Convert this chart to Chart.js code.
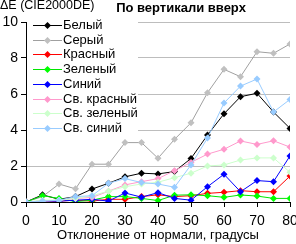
<!DOCTYPE html>
<html>
<head>
<meta charset="utf-8">
<script src="https://cdn.jsdelivr.net/npm/chart.js@4"></script>
<style>
  html, body { margin: 0; padding: 0; background: #fff; }
  #c { display: block; }
</style>
</head>
<body>
<canvas id="c" width="296" height="244"></canvas>
<script>
// Углы отклонения, градусы
const angles = [0, 5, 10, 15, 20, 25, 30, 35, 40, 45, 50, 55, 60, 65, 70, 75, 80];

// ΔE по каждому цвету
const belyj     = [0, 0.4, 0.15, 0.3, 0.72, 1.04, 1.4, 1.6, 1.56, 1.69, 2.42, 3.72, 4.9, 5.85, 6.04, 5.0, 4.09];
const seryj     = [0, 0.3, 1.0, 0.73, 2.1, 2.1, 3.3, 3.3, 2.43, 3.48, 4.4, 6.07, 7.37, 6.96, 8.35, 8.26, 8.78];
const krasnyj   = [0, 0.05, 0.05, 0.1, 0.05, 0.15, 0.15, 0.3, 0.4, 0.3, 0.35, 0.48, 0.54, 0.63, 0.57, 0.57, 1.44];
const zelenyj   = [0, 0.35, 0.2, 0.02, 0.1, 0.3, 0.3, 0.2, 0.08, 0.38, 0.4, 0.35, 0.26, 0.39, 0.33, 0.2, 0.2];
const sinij     = [0, 0.05, 0.05, 0.1, 0.15, 0.05, 0.5, 0.27, 0.52, 0.2, 0.1, 0.85, 1.54, 0.57, 1.19, 1.13, 2.56];
const svKrasnyj = [0, 0.05, 0.1, 0.2, 0.25, 0.6, 0.95, 1.13, 1.3, 1.74, 2.2, 2.66, 2.93, 3.39, 3.2, 3.4, 3.05];
const svZelenyj = [0, 0.1, 0.1, 0.2, 0.35, 0.6, 0.85, 1.0, 1.1, 1.35, 1.6, 2.0, 2.06, 2.33, 2.45, 2.45, 1.65];
const svSinij   = [0, 0.05, 0.1, 0.3, 0.35, 1.04, 1.3, 1.08, 1.0, 0.82, 2.06, 3.55, 5.5, 6.44, 6.83, 5.0, 5.7];

const seriesNames = ['Белый', 'Серый', 'Красный', 'Зеленый', 'Синий', 'Св. красный', 'Св. зеленый', 'Св. синий'];
const seriesData = [belyj, seryj, krasnyj, zelenyj, sinij, svKrasnyj, svZelenyj, svSinij];
const lineColors = ['#000000', '#a0a0a0', '#ff0000', '#00e600', '#0000ff', '#ff99cc', '#ccffcc', '#99ccff'];
const pointColors = ['#000000', '#c0c0c0', '#ff0000', '#00ff00', '#0000ff', '#ff99cc', '#ccffcc', '#99ccff'];

const yTicks = [0, 1, 2, 3, 4, 5, 6, 7, 8, 9, 10];
const xTicks = [0, 10, 20, 30, 40, 50, 60, 70, 80];

const chartTitle = 'По вертикали вверх';
const yTitle = 'ΔE (CIE2000DE)';
const xTitle = 'Отклонение от нормали, градусы';

const FONT = '"Liberation Sans", Arial, sans-serif';

const datasets = seriesData.map((vals, i) => ({
  label: seriesNames[i],
  data: vals.map((v, k) => ({ x: angles[k], y: v })),
  borderColor: lineColors[i],
  backgroundColor: pointColors[i],
  pointBackgroundColor: pointColors[i],
  pointBorderColor: pointColors[i],
  borderWidth: 1,
  pointStyle: 'rectRot',
  pointRadius: 3.5,
  pointBorderWidth: 0,
  tension: 0,
  order: seriesData.length - i
}));

// легенда внутри области графика + заголовки
const overlay = {
  id: 'overlay',
  afterDatasetsDraw(chart) {
    const ctx = chart.ctx;
    ctx.save();
    ctx.fillStyle = '#fff';
    ctx.fillRect(27, 15, 111, 122);
    ctx.font = '13px ' + FONT;
    ctx.textBaseline = 'middle';
    seriesNames.forEach((name, i) => {
      const y = Math.round(25 + i * 14.7) + 0.5;
      ctx.strokeStyle = lineColors[i];
      ctx.lineWidth = 1;
      ctx.beginPath();
      ctx.moveTo(33, y);
      ctx.lineTo(62, y);
      ctx.stroke();
      ctx.fillStyle = pointColors[i];
      ctx.beginPath();
      ctx.moveTo(47.5, y - 3.5);
      ctx.lineTo(51, y);
      ctx.lineTo(47.5, y + 3.5);
      ctx.lineTo(44, y);
      ctx.closePath();
      ctx.fill();
      ctx.fillStyle = '#000';
      ctx.textAlign = 'left';
      ctx.fillText(name, 63, y);
    });
    ctx.textAlign = 'left';
    ctx.font = '12.5px ' + FONT;
    ctx.fillText(yTitle, 0, 6);
    ctx.textAlign = 'center';
    ctx.font = 'bold 13px ' + FONT;
    ctx.fillText(chartTitle, 181, 8);
    ctx.restore();
  }
};

new Chart(document.getElementById('c').getContext('2d'), {
  type: 'line',
  data: { datasets },
  options: {
    responsive: false,
    animation: false,
    devicePixelRatio: 1,
    layout: { padding: { top: 22, right: 6, left: 0, bottom: 0 } },
    plugins: { legend: { display: false }, tooltip: { enabled: false }, title: { display: false } },
    scales: {
      x: {
        type: 'linear',
        min: 0, max: 80,
        afterBuildTicks: s => { s.ticks = xTicks.map(v => ({ value: v })); },
        afterFit: s => { s.height = 42; s.paddingLeft = 0; s.paddingRight = 0; },
        ticks: { color: '#000', font: { family: FONT, size: 14 }, padding: 6, maxRotation: 0 },
        grid: { drawOnChartArea: false, drawTicks: true, tickLength: 5, tickColor: '#000' },
        border: { color: '#000', width: 1 },
        title: { display: true, text: xTitle, color: '#000', font: { family: FONT, size: 13 }, padding: { top: 0, bottom: 1 } }
      },
      y: {
        min: 0, max: 10,
        afterBuildTicks: s => { s.ticks = yTicks.map(v => ({ value: v })); },
        afterFit: s => { s.width = 26; s.paddingTop = 0; s.paddingBottom = 0; },
        ticks: { color: '#000', font: { family: FONT, size: 14 }, padding: 3 },
        grid: { color: '#bdbdbd', lineWidth: 1, drawTicks: true, tickLength: 5, tickColor: '#000' },
        border: { color: '#000', width: 1 }
      }
    }
  },
  plugins: [overlay]
});
</script>
</body>
</html>
